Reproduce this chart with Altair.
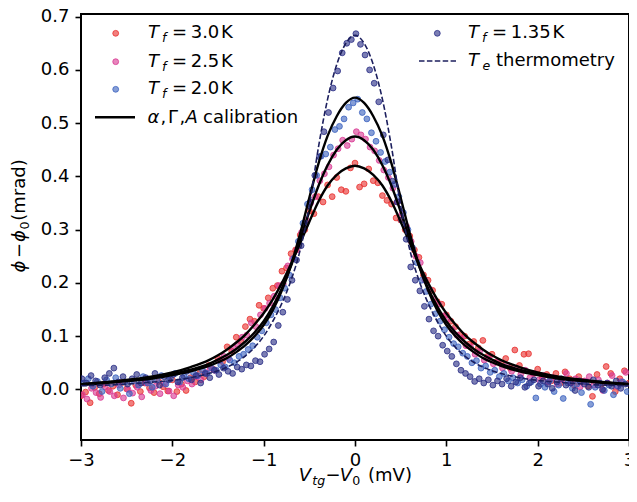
import altair as alt
import numpy as np
import pandas as pd

# ---------------- data ----------------
STEP = 0.05
# measured points: sweep start (mV) and phi - phi0 (mrad)
X0_30, X0_25, X0_20, X0_135 = -3.00, -2.985, -2.97, -2.99

Y_30 = [-0.012, -0.005, -0.025, 0.004, -0.008, 0.010, -0.002, 0.006, -0.010, 0.013,
        0.001, -0.026, 0.008, -0.004, 0.012, 0.003, -0.006, 0.015, 0.005, -0.003,
        0.018, -0.004, 0.010, -0.002, 0.022, 0.014, 0.030, 0.024, 0.045, 0.038,
        0.058, 0.052, 0.080, 0.072, 0.098, 0.090, 0.118, 0.132, 0.128, 0.158,
        0.152, 0.172, 0.190, 0.195, 0.222, 0.228, 0.255, 0.262, 0.290, 0.300,
        0.335, 0.330, 0.362, 0.352, 0.384, 0.362, 0.398, 0.375, 0.372, 0.416,
        0.425, 0.380, 0.386, 0.414, 0.392, 0.388, 0.364, 0.355, 0.348, 0.322,
        0.318, 0.300, 0.288, 0.262, 0.248, 0.215, 0.205, 0.186, 0.165, 0.160,
        0.140, 0.128, 0.118, 0.103, 0.100, 0.085, 0.090, 0.078, 0.092, 0.062,
        0.066, 0.052, 0.048, 0.058, 0.040, 0.074, 0.045, 0.066, 0.067, 0.030,
        0.038, 0.022, 0.028, 0.016, 0.030, 0.012, 0.033, 0.020, 0.008, 0.024,
        0.015, 0.006, -0.013, 0.028, 0.010, 0.043, 0.030, -0.004, 0.020, 0.035,
        0.012]

Y_25 = [-0.010, -0.018, 0.002, -0.006, -0.015, 0.005, -0.004, -0.012, 0.008, -0.016,
        0.000, -0.007, 0.004, -0.014, 0.012, -0.002, 0.006, -0.008, 0.010, -0.003,
        -0.012, 0.008, 0.004, 0.016, 0.010, 0.024, 0.018, 0.032, 0.040, 0.036,
        0.054, 0.062, 0.058, 0.078, 0.085, 0.098, 0.102, 0.125, 0.118, 0.140,
        0.152, 0.162, 0.175, 0.195, 0.198, 0.232, 0.245, 0.262, 0.295, 0.318,
        0.350, 0.362, 0.392, 0.405, 0.418, 0.440, 0.452, 0.468, 0.458, 0.470,
        0.484, 0.478, 0.470, 0.455, 0.448, 0.430, 0.412, 0.398, 0.378, 0.352,
        0.330, 0.306, 0.278, 0.250, 0.238, 0.205, 0.188, 0.170, 0.160, 0.138,
        0.132, 0.112, 0.102, 0.096, 0.082, 0.080, 0.066, 0.072, 0.055, 0.060,
        0.048, 0.052, 0.040, 0.046, 0.034, 0.040, 0.028, 0.036, 0.022, 0.030,
        0.018, 0.026, 0.014, 0.022, 0.010, 0.018, 0.030, 0.012, 0.020, 0.005,
        0.016, 0.024, 0.008, 0.018, -0.002, 0.012, 0.026, 0.006, 0.015, 0.032]

Y_20 = [0.012, 0.020, 0.006, 0.015, -0.004, 0.018, 0.010, 0.022, 0.002, 0.014,
        -0.008, 0.016, 0.008, 0.024, 0.012, 0.004, 0.018, 0.026, 0.010, 0.020,
        0.030, 0.014, 0.024, 0.020, 0.032, 0.026, 0.036, 0.030, 0.040, 0.036,
        0.046, 0.042, 0.055, 0.050, 0.062, 0.066, 0.075, 0.082, 0.098, 0.110,
        0.125, 0.140, 0.150, 0.172, 0.190, 0.215, 0.246, 0.278, 0.312, 0.348,
        0.375, 0.402, 0.438, 0.442, 0.455, 0.488, 0.494, 0.508, 0.530, 0.538,
        0.545, 0.520, 0.508, 0.482, 0.466, 0.445, 0.428, 0.408, 0.385, 0.362,
        0.332, 0.300, 0.266, 0.238, 0.205, 0.184, 0.160, 0.142, 0.128, 0.112,
        0.098, 0.086, 0.080, 0.068, 0.062, 0.050, 0.054, 0.040, 0.044, 0.032,
        0.036, 0.024, 0.030, 0.016, 0.022, 0.012, 0.018, 0.006, 0.014, -0.016,
        0.010, 0.004, 0.016, -0.004, 0.008, -0.017, 0.012, 0.002, 0.010, -0.006,
        0.014, -0.028, 0.004, 0.012, -0.002, 0.008, -0.010, 0.006, 0.014, -0.004]

Y_135 = [0.020, 0.012, 0.026, 0.016, 0.008, 0.022, 0.030, 0.040, 0.014, 0.024,
         0.010, 0.020, 0.028, 0.012, 0.022, 0.016, 0.030, 0.008, 0.024, 0.018,
         0.028, 0.014, 0.022, 0.034, 0.018, 0.026, 0.012, 0.030, 0.022, 0.036,
         0.028, 0.040, 0.034, 0.030, 0.042, 0.038, 0.046, 0.044, 0.054, 0.052,
         0.066, 0.076, 0.089, 0.120, 0.145, 0.169, 0.205, 0.243, 0.270, 0.310,
         0.352, 0.402, 0.437, 0.484, 0.520, 0.566, 0.598, 0.632, 0.650, 0.657,
         0.668, 0.648, 0.628, 0.600, 0.575, 0.540, 0.478, 0.431, 0.391, 0.352,
         0.318, 0.282, 0.230, 0.205, 0.185, 0.156, 0.132, 0.110, 0.100, 0.083,
         0.072, 0.062, 0.048, 0.036, 0.030, 0.024, 0.015, 0.020, 0.012, 0.018,
         0.008, 0.016, 0.010, 0.020, 0.006, 0.014, 0.022, 0.004, 0.012, 0.018,
         0.006, 0.016, 0.010, 0.002, 0.014, 0.020, 0.008, 0.012, -0.002, 0.016,
         0.010, 0.004, 0.018, 0.008, 0.000, 0.012, 0.006, 0.016, 0.002, 0.010]

# model curves
CURVE_X = [-3.0, -2.6, -2.2, -2.0, -1.8, -1.6, -1.5, -1.4, -1.3, -1.2, -1.1,
           -1.0, -0.9, -0.8, -0.7, -0.6, -0.5, -0.4, -0.3, -0.2, -0.1, 0.0,
           0.1, 0.2, 0.3, 0.4, 0.5, 0.6, 0.7, 0.8, 0.9, 1.0, 1.1, 1.2, 1.3,
           1.4, 1.5, 1.6, 1.8, 2.0, 2.2, 2.6, 3.0]
HALF_D = [0.007, 0.009, 0.014, 0.017, 0.022, 0.030, 0.035, 0.042, 0.051, 0.063, 0.079,
          0.100, 0.128, 0.162, 0.205, 0.262, 0.345, 0.455, 0.545, 0.610, 0.650, 0.665]
HALF_S20 = [0.009, 0.014, 0.021, 0.027, 0.034, 0.044, 0.051, 0.059, 0.070, 0.083, 0.100,
            0.121, 0.149, 0.186, 0.234, 0.293, 0.360, 0.424, 0.476, 0.513, 0.538, 0.548]
HALF_S25 = [0.010, 0.015, 0.023, 0.029, 0.037, 0.048, 0.056, 0.065, 0.076, 0.090, 0.107,
            0.128, 0.156, 0.190, 0.232, 0.282, 0.334, 0.382, 0.421, 0.450, 0.468, 0.475]
HALF_S30 = [0.010, 0.016, 0.025, 0.032, 0.042, 0.055, 0.064, 0.075, 0.088, 0.103, 0.122,
            0.143, 0.169, 0.200, 0.236, 0.275, 0.315, 0.353, 0.383, 0.403, 0.415, 0.420]

X_TICKS = [-3, -2, -1, 0, 1, 2, 3]
Y_TICKS = [0.0, 0.1, 0.2, 0.3, 0.4, 0.5, 0.6, 0.7]

C30, C25, C20, C135 = "#e8312f", "#d93a93", "#3c63bf", "#2a2e86"
CDASH = "#1c1f5e"
FONT = "DejaVu Sans"
W, H = 548, 426
PSIZE = 34


def full(half):
    return half + half[-2::-1]


def pts(x0, ys):
    return pd.DataFrame({"x": x0 + STEP * np.arange(len(ys)), "y": ys})


xs = alt.X("x:Q", scale=alt.Scale(domain=[-3, 3], nice=False, zero=False),
           axis=alt.Axis(values=X_TICKS, format="d", title=None, grid=False, domain=False,
                         labelFont=FONT, labelFontSize=18, labelColor="black",
                         tickColor="black", tickSize=6, tickWidth=1.6, labelPadding=5,
                         labelFlush=False))
ys = alt.Y("y:Q", scale=alt.Scale(domain=[-0.095, 0.705], nice=False, zero=False),
           axis=alt.Axis(values=Y_TICKS, format=".1f", title=None, grid=False, domain=False,
                         labelFont=FONT, labelFontSize=18, labelColor="black",
                         tickColor="black", tickSize=6, tickWidth=1.6, labelPadding=6))


def scatter(df, c):
    return alt.Chart(df).mark_circle(size=PSIZE, fill=c, stroke=c, fillOpacity=0.62,
                                     strokeOpacity=0.8, strokeWidth=1, clip=True
                                     ).encode(x=xs, y=ys)


layers = [scatter(pts(X0_30, Y_30), C30), scatter(pts(X0_25, Y_25), C25),
          scatter(pts(X0_20, Y_20), C20), scatter(pts(X0_135, Y_135), C135)]

solid = pd.concat([
    pd.DataFrame({"x": CURVE_X, "y": full(HALF_S30), "c": "3.0"}),
    pd.DataFrame({"x": CURVE_X, "y": full(HALF_S25), "c": "2.5"}),
    pd.DataFrame({"x": CURVE_X, "y": full(HALF_S20), "c": "2.0"}),
])
layers.append(alt.Chart(solid).mark_line(color="black", strokeWidth=2.4, interpolate="monotone",
                                         clip=True).encode(x=xs, y=ys, detail="c:N"))
dashed = pd.DataFrame({"x": CURVE_X, "y": full(HALF_D)})
layers.append(alt.Chart(dashed).mark_line(color=CDASH, strokeWidth=1.6, strokeDash=[5.5, 2.4],
                                          interpolate="monotone", clip=True).encode(x=xs, y=ys))


def one():
    return pd.DataFrame({"a": [0]})


def txt(s, x, y, size=18, italic=False, angle=0, align="left"):
    return alt.Chart(one()).mark_text(
        text=s, font=FONT, fontSize=size, fontStyle="italic" if italic else "normal",
        align=align, baseline="alphabetic", angle=angle, color="black"
    ).encode(x=alt.value(x), y=alt.value(y))


def dot(c, x, y):
    return alt.Chart(one()).mark_circle(size=PSIZE, fill=c, stroke=c, fillOpacity=0.62,
                                        strokeOpacity=0.8, strokeWidth=1
                                        ).encode(x=alt.value(x), y=alt.value(y))


SUB = 12.6
# left legend (positions relative to the plot's top-left corner)
for c, yy, t in [(C30, 19.3, "3.0"), (C25, 47.7, "2.5"), (C20, 75.3, "2.0")]:
    layers += [dot(c, 34.7, yy), txt("T", 67, yy + 5, italic=True),
               txt("f", 81, yy + 9, size=SUB, italic=True),
               txt("=\u2009" + t + "\u200aK", 91, yy + 5)]
layers.append(alt.Chart(one()).mark_rule(color="black", strokeWidth=2.4).encode(
    x=alt.value(14), x2=alt.value(54), y=alt.value(103.3)))
layers += [txt("α", 66.5, 108.8, italic=True), txt(",", 79.5, 108.8), txt("Γ", 87, 108.8),
           txt(",", 98.5, 108.8), txt("A", 104.5, 108.8, italic=True),
           txt("calibration", 122, 108.8)]
# right legend
layers += [dot(C135, 356.3, 19.3), txt("T", 387, 24.3, italic=True),
           txt("f", 401, 28.3, size=SUB, italic=True), txt("=\u20091.35\u200aK", 411, 24.3)]
layers.append(alt.Chart(one()).mark_rule(color=CDASH, strokeWidth=1.6, strokeDash=[5.5, 2.4]).encode(
    x=alt.value(338), x2=alt.value(375), y=alt.value(47)))
layers += [txt("T", 387, 52, italic=True), txt("e", 401.5, 56, size=SUB, italic=True),
           txt("thermometry", 415, 52)]
# x title
TY = 467
layers += [txt("V", 224, TY, italic=True, align="center"),
           txt("tg", 237.8, TY + 4, size=SUB, italic=True, align="center"),
           txt("\u2212", 252, TY, align="center"),
           txt("V", 264.8, TY, italic=True, align="center"),
           txt("0", 275.2, TY + 4, size=SUB, align="center"),
           txt("(mV)", 309, TY, align="center")]
# y title (rotated)
layers += [txt("ϕ", -56, 252.5, italic=True, angle=270, align="center"),
           txt("\u2212", -56, 236.5, angle=270, align="center"),
           txt("ϕ", -56, 222, italic=True, angle=270, align="center"),
           txt("0", -52, 211.5, size=SUB, angle=270, align="center"),
           txt("(mrad)", -56, 176, angle=270, align="center")]

chart = alt.layer(*layers).properties(
    width=W, height=H,
    autosize=alt.AutoSizeParams(type="none"),
    padding={"left": 73, "top": 6, "right": 0, "bottom": 48},
    background="white",
).configure_view(stroke="black", strokeWidth=2)

chart.save("out.html", embed_options={"renderer": "svg", "actions": False})
